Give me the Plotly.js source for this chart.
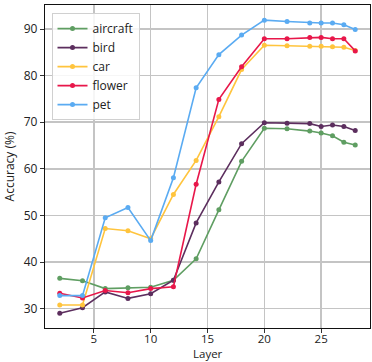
<!DOCTYPE html>
<html><head><meta charset="utf-8">
<script src="https://cdn.plot.ly/plotly-3.0.1.min.js"></script>
<style>html,body{margin:0;padding:0;background:#fff;}#chart{width:372px;height:362px;}</style>
</head><body><div id="chart"></div>
<script>
const layers = [2,4,6,8,10,12,14,16,18,20,22,24,25,26,27,28];
const seriesNames = ["aircraft","bird","car","flower","pet"];
const aircraft = [36.5,36.0,34.3,34.5,34.6,36.1,40.7,51.2,61.6,68.7,68.6,68.1,67.7,67.1,65.7,65.1];
const bird     = [29.0,30.2,33.6,32.2,33.2,36.1,48.4,57.2,65.4,69.9,69.8,69.7,69.1,69.4,69.1,68.2];
const car      = [30.8,30.8,47.2,46.7,45.0,54.5,61.8,71.2,81.3,86.5,86.4,86.3,86.3,86.2,86.1,85.4];
const flower   = [33.3,32.3,33.9,33.4,34.3,34.7,56.7,74.9,81.9,87.9,87.9,88.2,88.2,87.9,87.9,85.3];
const pet      = [32.8,32.8,49.5,51.7,44.6,58.1,77.4,84.5,88.7,91.9,91.6,91.3,91.3,91.3,90.9,89.9];
const xTicks = [5,10,15,20,25];
const yTicks = [30,40,50,60,70,80,90];

const values = [aircraft,bird,car,flower,pet];
const colors = ["#5f9e62","#5c2e5e","#ffc43d","#e8174a","#5aabf2"];
const traces = seriesNames.map((n,i)=>({
  x: layers, y: values[i], name: n, type: "scatter", mode: "lines+markers",
  line: {color: colors[i], width: 1.6},
  marker: {color: colors[i], size: 5, symbol: "circle"}
}));
const font = {family: "Open Sans, Liberation Sans, sans-serif", size: 12, color: "#222"};
Plotly.newPlot("chart", traces, {
  width: 372, height: 362,
  margin: {l: 45, r: 2, t: 5, b: 34},
  paper_bgcolor: "#fff", plot_bgcolor: "#fff",
  font: font,
  showlegend: true,
  legend: {x: 0.02, y: 0.975, xanchor: "left", yanchor: "top",
    bgcolor: "rgba(255,255,255,0.85)", bordercolor: "#d0d0d0", borderwidth: 1,
    font: {family: font.family, size: 12, color: "#222"}, tracegroupgap: 0, itemwidth: 30},
  annotations: [{text: "Layer", xref: "paper", yref: "paper", x: 0.5, y: -0.079,
    xanchor: "center", yanchor: "middle", showarrow: false,
    font: {family: font.family, size: 11.5, color: "#222"}}],
  xaxis: {range: [0.7, 29.3], tickvals: xTicks, ticks: "outside", ticklen: 4, tickcolor: "#333",
    ticklabelstandoff: -4,
    showgrid: true, gridcolor: "#c4c4c4", gridwidth: 1.5, zeroline: false,
    showline: true, linecolor: "#111", linewidth: 1.2, mirror: true,
    tickfont: {family: font.family, size: 11.5, color: "#222"}},
  yaxis: {range: [25.85, 95.15], tickvals: yTicks, ticks: "outside", ticklen: 4, tickcolor: "#333",
    showgrid: true, gridcolor: "#c4c4c4", gridwidth: 1.5, zeroline: false,
    showline: true, linecolor: "#111", linewidth: 1.2, mirror: true,
    title: {text: "Accuracy (%)", standoff: 6, font: {family: font.family, size: 12, color: "#222"}},
    tickfont: {family: font.family, size: 12, color: "#222"}}
}, {displayModeBar: false, staticPlot: true});
</script></body></html>
